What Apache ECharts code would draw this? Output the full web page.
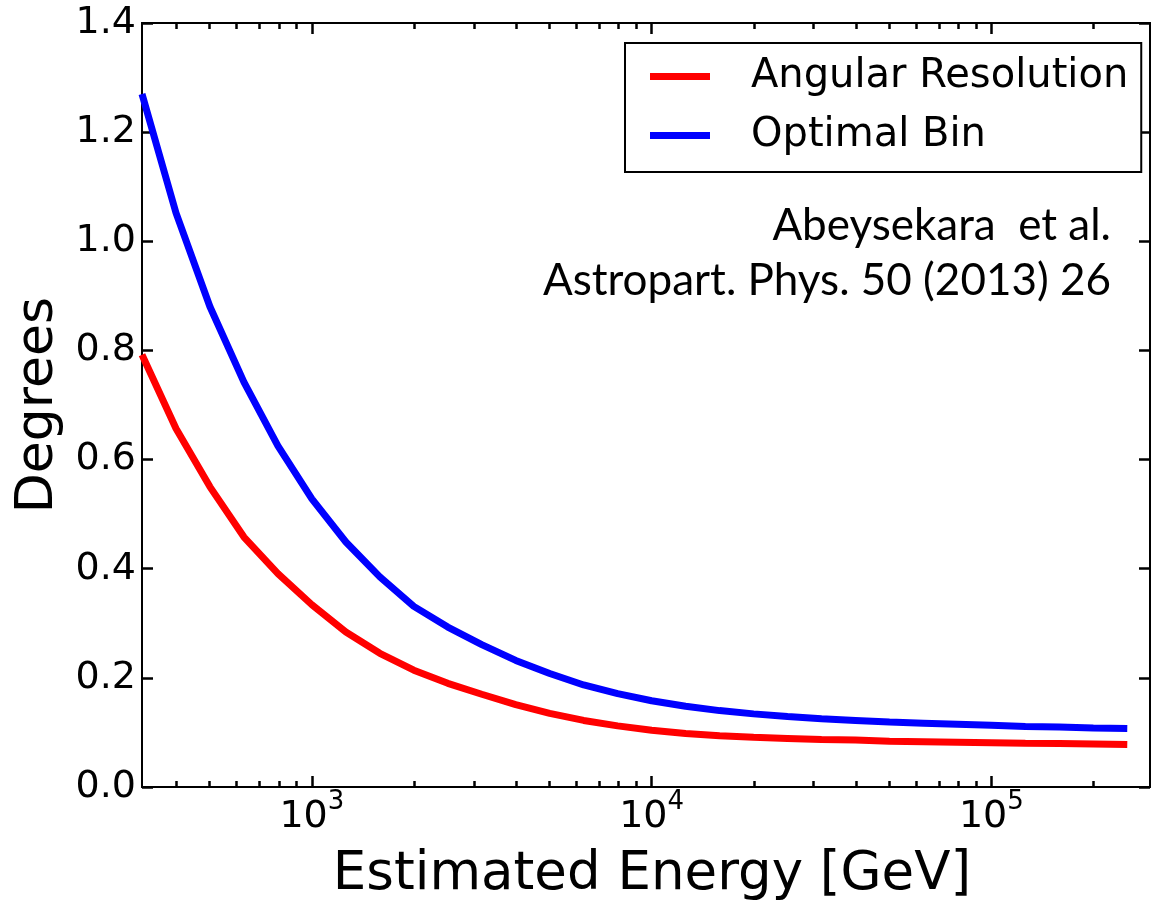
<!DOCTYPE html>
<html>
<head>
<meta charset="utf-8">
<script src="https://cdn.jsdelivr.net/npm/echarts@6/dist/echarts.min.js"></script>
<style>
html, body { margin: 0; padding: 0; background: #ffffff; }
#chart { width: 1151px; height: 901px; }
</style>
</head>
<body>
<div id="chart"></div>
<script>
// ---- data ----
const energyGeV = [316.2, 398.1, 501.2, 631.0, 794.3, 1000, 1259, 1585, 1995, 2512,
  3162, 3981, 5012, 6310, 7943, 10000, 12589, 15849, 19953, 25119,
  31623, 39811, 50119, 63096, 79433, 100000, 125893, 158489, 199526, 251189];
const angularResolution = [0.792, 0.657, 0.550, 0.458, 0.391, 0.334, 0.284, 0.245, 0.214, 0.190,
  0.170, 0.151, 0.135, 0.122, 0.112, 0.104, 0.098, 0.094, 0.091, 0.089,
  0.087, 0.086, 0.084, 0.083, 0.082, 0.081, 0.080, 0.0795, 0.079, 0.078];
const optimalBin = [1.270, 1.052, 0.880, 0.742, 0.625, 0.528, 0.449, 0.385, 0.331, 0.293,
  0.261, 0.232, 0.208, 0.187, 0.171, 0.158, 0.148, 0.140, 0.134, 0.129,
  0.125, 0.122, 0.119, 0.117, 0.115, 0.113, 0.111, 0.110, 0.108, 0.107];
const seriesNames = ['Angular Resolution', 'Optimal Bin'];
const xMajorTicks = [1000, 10000, 100000];
const xMinorTicks = [400, 500, 600, 700, 800, 900,
  2000, 3000, 4000, 5000, 6000, 7000, 8000, 9000,
  20000, 30000, 40000, 50000, 60000, 70000, 80000, 90000,
  200000];
const yTickValues = [0.0, 0.2, 0.4, 0.6, 0.8, 1.0, 1.2, 1.4];
const xAxisTitle = 'Estimated Energy [GeV]';
const yAxisTitle = 'Degrees';
const citationLines = ['Abeysekara  et al.', 'Astropart. Phys. 50 (2013) 26'];
const xRange = [316.2, 293000];

// ---- chart ----
const FONT = 'DejaVu Sans';
const BLACK = '#000000';

function xAxisCfg(position, ticks, tickLen, withLabels) {
  const cfg = {
    type: 'log', logBase: 10, gridIndex: 0,
    min: xRange[0], max: xRange[1], position: position,
    axisLine: { show: true, onZero: false, lineStyle: { color: BLACK, width: 2 } },
    axisTick: { show: true, inside: true, length: tickLen, customValues: ticks,
      lineStyle: { color: BLACK, width: 2.5 } },
    axisLabel: { show: false },
    splitLine: { show: false },
    minorTick: { show: false },
    minorSplitLine: { show: false },
    silent: true
  };
  if (withLabels) {
    cfg.axisLabel = {
      show: true, customValues: xMajorTicks, margin: 11, color: BLACK,
      formatter: function (v) {
        return '{b|10}{s|' + Math.round(Math.log10(v)) + '}';
      },
      rich: {
        b: { fontFamily: FONT, fontSize: 38, lineHeight: 38, color: BLACK, verticalAlign: 'bottom' },
        s: { fontFamily: FONT, fontSize: 26, lineHeight: 26, color: BLACK, verticalAlign: 'bottom', padding: [0, 0, 21, 0] }
      }
    };
    cfg.name = xAxisTitle;
    cfg.nameLocation = 'middle';
    cfg.nameGap = 62;
    cfg.nameMoveOverlap = false;
    cfg.nameTextStyle = { fontFamily: FONT, fontSize: 53, color: BLACK, padding: [0, 0, 0, 12] };
  }
  return cfg;
}

function yAxisCfg(position, withLabels) {
  const cfg = {
    type: 'value', gridIndex: 0, min: yTickValues[0], max: yTickValues[yTickValues.length - 1],
    interval: 0.2, position: position,
    axisLine: { show: true, onZero: false, lineStyle: { color: BLACK, width: 2 } },
    axisTick: { show: true, inside: true, length: 11, lineStyle: { color: BLACK, width: 2.5 } },
    axisLabel: { show: false },
    splitLine: { show: false },
    silent: true
  };
  if (withLabels) {
    cfg.axisLabel = {
      show: true, margin: 6, color: BLACK, fontFamily: FONT, fontSize: 38,
      formatter: function (v) { return v.toFixed(1); }
    };
    cfg.name = yAxisTitle;
    cfg.nameLocation = 'middle';
    cfg.nameGap = 78;
    cfg.nameMoveOverlap = false;
    cfg.nameTextStyle = { fontFamily: FONT, fontSize: 52, color: BLACK };
  }
  return cfg;
}

const chart = echarts.init(document.getElementById('chart'), null, { renderer: 'canvas' });
chart.setOption({
  animation: false,
  backgroundColor: '#ffffff',
  grid: { left: 142, right: 1, top: 23, bottom: 114, containLabel: false, outerBoundsMode: 'none' },
  xAxis: [
    xAxisCfg('bottom', xMajorTicks, 11, true),
    xAxisCfg('bottom', xMinorTicks, 6, false),
    xAxisCfg('top', xMajorTicks, 11, false),
    xAxisCfg('top', xMinorTicks, 6, false)
  ],
  yAxis: [yAxisCfg('left', true), yAxisCfg('right', false)],
  legend: {
    data: seriesNames, orient: 'vertical', left: 625, top: 43,
    icon: 'rect', itemWidth: 60, itemHeight: 7, itemGap: 12,
    padding: [10, 13, 13, 25],
    backgroundColor: '#ffffff', borderColor: BLACK, borderWidth: 2, borderRadius: 0,
    selectedMode: false,
    itemStyle: { borderWidth: 0 },
    textStyle: { fontFamily: FONT, fontSize: 40, color: BLACK, lineHeight: 47, padding: [0, 0, 0, 36] }
  },
  graphic: [
    { type: 'text', x: 1111, y: 226, silent: true,
      style: { text: citationLines[0], align: 'right', verticalAlign: 'middle',
        fontFamily: 'Lato', fontSize: 44, fill: BLACK } },
    { type: 'text', x: 1111, y: 281, silent: true,
      style: { text: citationLines[1], align: 'right', verticalAlign: 'middle',
        fontFamily: 'Lato', fontSize: 44, fill: BLACK } }
  ],
  series: [
    { name: seriesNames[0], type: 'line', xAxisIndex: 0, yAxisIndex: 0,
      data: energyGeV.map(function (e, i) { return [e, angularResolution[i]]; }),
      symbol: 'none', showSymbol: false, smooth: false,
      lineStyle: { color: '#ff0000', width: 7 }, itemStyle: { color: '#ff0000' } },
    { name: seriesNames[1], type: 'line', xAxisIndex: 0, yAxisIndex: 0,
      data: energyGeV.map(function (e, i) { return [e, optimalBin[i]]; }),
      symbol: 'none', showSymbol: false, smooth: false,
      lineStyle: { color: '#0000ff', width: 7 }, itemStyle: { color: '#0000ff' } }
  ]
});
</script>
</body>
</html>
